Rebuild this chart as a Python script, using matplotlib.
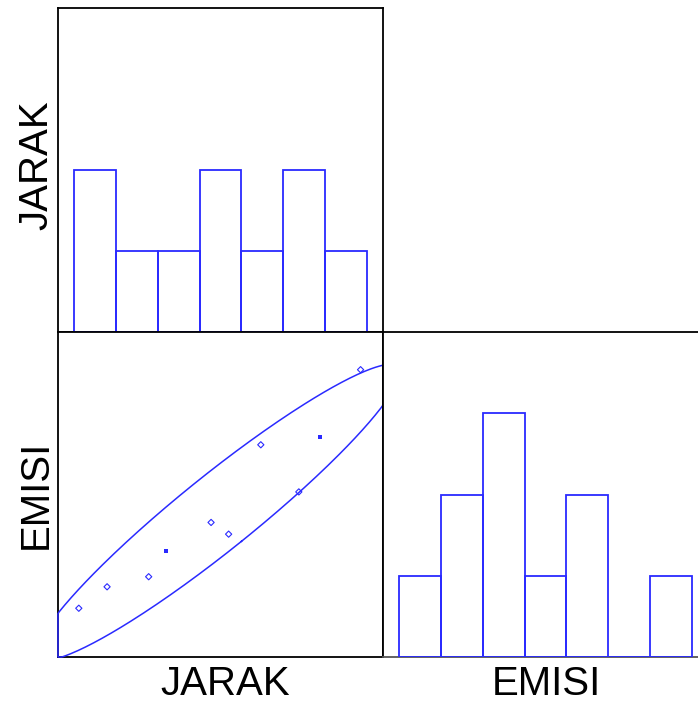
import numpy as np
import matplotlib
matplotlib.use("Agg")
import matplotlib.pyplot as plt

# ---- data (arbitrary 0-100 units) ----
variables = ["JARAK", "EMISI"]
jarak = [6.4, 15.1, 27.9, 33.3, 47.1, 52.5, 62.4, 80.7, 74.1, 93.1]
emisi = [15.0, 21.6, 24.7, 32.5, 41.4, 37.8, 65.3, 67.6, 50.8, 88.4]
filled_points = [3, 7]          # observations drawn as filled markers
bin_edges = [5.0, 17.86, 30.71, 43.57, 56.43, 69.29, 82.14, 95.0]
axis_range = (0, 100)
hist_max = 4
ellipse_level = 0.85

BLUE = "#2a2aff"
plt.rcParams["font.family"] = ["Liberation Sans", "DejaVu Sans"]

W, H = 698, 704
fig = plt.figure(figsize=(W / 100, H / 100), dpi=100)

def box(x0, y0, x1, y1):
    return [x0 / W, 1 - y1 / H, (x1 - x0) / W, (y1 - y0) / H]

ax_h1 = fig.add_axes(box(58, 8, 383, 332))
ax_sc = fig.add_axes(box(58, 332, 383, 657))
ax_h2 = fig.add_axes(box(383, 332, 708, 657))

for ax in (ax_h1, ax_sc, ax_h2):
    ax.set_xticks([])
    ax.set_yticks([])
    ax.set_xlim(*axis_range)
    for s in ax.spines.values():
        s.set_linewidth(1.3)
        s.set_color("black")

# histograms
ax_h1.hist(jarak, bins=bin_edges, histtype="bar", fill=False,
           edgecolor=BLUE, linewidth=1.3, zorder=3)
ax_h1.set_ylim(0, hist_max)
ax_h2.hist(emisi, bins=bin_edges, histtype="bar", fill=False,
           edgecolor=BLUE, linewidth=1.3, zorder=3)
ax_h2.set_ylim(0, hist_max)
ax_h2.spines["bottom"].set_color("#555555")

# scatter
ax_sc.set_ylim(*axis_range)
x = np.array(jarak)
y = np.array(emisi)
hollow = [i for i in range(len(x)) if i not in filled_points]
ax_sc.scatter(x[hollow], y[hollow], marker="D", s=10, facecolors="none",
              edgecolors=BLUE, linewidths=0.8, zorder=4)
ax_sc.scatter(x[filled_points], y[filled_points], marker="s", s=7,
              color=BLUE, linewidths=0, zorder=4)

# prediction/density ellipse from the data
mean = np.array([x.mean(), y.mean()])
cov = np.cov(x, y)
c = np.sqrt(-2 * np.log(1 - ellipse_level))
vals, vecs = np.linalg.eigh(cov)
t = np.linspace(0, 2 * np.pi, 400)
circ = np.vstack([np.cos(t), np.sin(t)])
pts = (vecs @ (np.sqrt(vals)[:, None] * circ)) * c + mean[:, None]
ex = np.clip(pts[0], *axis_range)
ey = np.clip(pts[1], *axis_range)
ax_sc.plot(ex, ey, color=BLUE, linewidth=1.1, clip_on=False, zorder=3)
ax_sc.spines["right"].set_zorder(6)

# labels
fs = 29
fig.text(36 / W, 1 - 165 / H, variables[0], rotation=90, ha="center",
         va="center", fontsize=fs)
fig.text(36 / W, 1 - 494 / H, variables[1], rotation=90, ha="center",
         va="center", fontsize=fs)
fig.text(225 / W, 1 - 684 / H, variables[0], ha="center", va="center",
         fontsize=fs)
fig.text(546 / W, 1 - 684 / H, variables[1], ha="center", va="center",
         fontsize=fs)

fig.savefig("out.png", dpi=100)
